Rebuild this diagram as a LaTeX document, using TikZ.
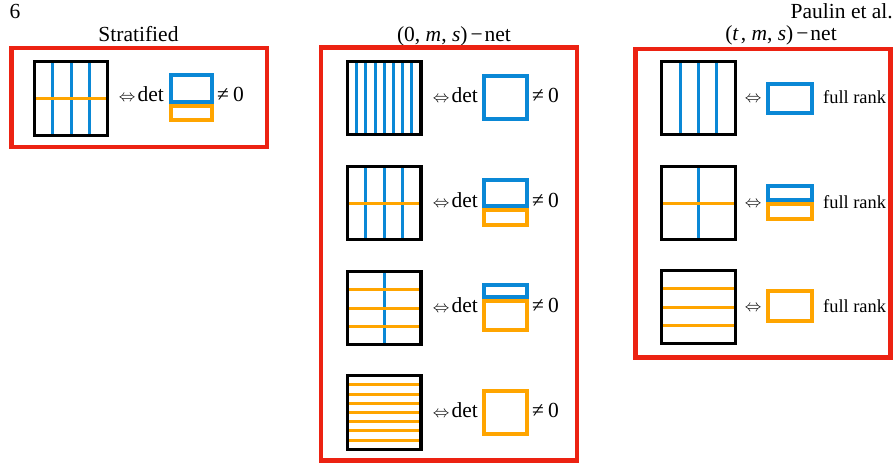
\documentclass[tikz,border=0pt]{standalone}
\usepackage{fontspec}
\setmainfont{Liberation Serif}
\usepackage{graphicx}
\definecolor{myblue}{RGB}{10,136,214}
\definecolor{myorange}{RGB}{255,165,0}
\definecolor{myred}{RGB}{236,34,18}
\newcommand\myiff{\scalebox{0.8}{$\Leftrightarrow$}}
\tikzset{
  frame/.style={draw=myred,line width=4.6pt},
  gridsq/.style={draw=black,line width=3.3pt,minimum size=73.5pt,inner sep=0pt,outer sep=0pt},
  bl/.style={draw=myblue,line width=3pt},
  ol/.style={draw=myorange,line width=3pt},
  bm/.style={draw=myblue,line width=4pt},
  om/.style={draw=myorange,line width=4pt},
  txt/.style={inner sep=0pt,font=\fontsize{21.5}{24}\selectfont},
  small/.style={inner sep=0pt,font=\fontsize{18.4}{20}\selectfont},
}
\begin{document}
\begin{tikzpicture}[x=1pt,y=-1pt]
\useasboundingbox (0,0) rectangle (896,463);

% header
\node[txt,anchor=base west] (pg) at (9.3,18.3) {6};
\node[txt,anchor=base east] (au) at (893,18.3) {Paulin et al.};

% titles
\node[txt,anchor=base] (t1) at (138.5,41.7) {Stratified};
\node[txt,anchor=base] (t2) at (454,41.7) {(0, \textit{m}, \textit{s})\kern3pt−\kern2pt net};
\node[txt,anchor=base] (t3) at (781,40.5) {(\textit{t}\kern2pt, \textit{m}, \textit{s})\kern3pt−\kern2pt net};

% frames
\draw[frame] (11.5,48) rectangle (267,147);
\draw[frame] (321,47.5) rectangle (577,460.5);
\draw[frame] (635.5,49) rectangle (890.5,357.5);

% ---------- Stratified ----------
\foreach \k in {1,2,3} \draw[bl] ({71-36.75+\k*18.375},{98.5-36.75}) -- ++(0,73.5);
\draw[ol] (71-36.75,98.5) -- ++(73.5,0);
\node[gridsq] (s1) at (71,98.5) {};
\node[txt,anchor=base east] (sd1) at (164,101.7) {\myiff\kern2pt det};
\draw[bm] (171,75) rectangle (212,102);
\draw[om] (171,106) rectangle (212,120);
\node[txt,anchor=base west] (sn1) at (217,101.7) {≠\kern4pt 0};

% ---------- (0,m,s)-net ----------
% row 1
\foreach \k in {1,...,7} \draw[bl] ({384.25-36.75+\k*9.1875},{98-36.75}) -- ++(0,73.5);
\node[gridsq] (m1) at (384.25,98) {};
\node[txt,anchor=base east] (md1) at (478,102.5) {\myiff\kern2pt det};
\draw[bm] (484,76) rectangle (527,119);
\node[txt,anchor=base west] (mn1) at (532,102.5) {≠\kern4pt 0};
% row 2
\foreach \k in {1,2,3} \draw[bl] ({384.25-36.75+\k*18.375},{203-36.75}) -- ++(0,73.5);
\draw[ol] (384.25-36.75,203) -- ++(73.5,0);
\node[gridsq] (m2) at (384.25,203) {};
\node[txt,anchor=base east] (md2) at (478,207.5) {\myiff\kern2pt det};
\draw[bm] (484,179.5) rectangle (527,205.5);
\draw[om] (484,209.7) rectangle (527,224.7);
\node[txt,anchor=base west] (mn2) at (532,207.5) {≠\kern4pt 0};
% row 3
\draw[bl] (384.25,308-36.75) -- ++(0,73.5);
\foreach \k in {1,2,3} \draw[ol] ({384.25-36.75},{308-36.75+\k*18.375}) -- ++(73.5,0);
\node[gridsq] (m3) at (384.25,308) {};
\node[txt,anchor=base east] (md3) at (478,312.5) {\myiff\kern2pt det};
\draw[bm] (484,284.7) rectangle (527,297.3);
\draw[om] (484,301.3) rectangle (527,330.3);
\node[txt,anchor=base west] (mn3) at (532,312.5) {≠\kern4pt 0};
% row 4
\foreach \k in {1,...,7} \draw[ol] ({384.25-36.75},{412.5-36.75+\k*9.1875}) -- ++(73.5,0);
\node[gridsq] (m4) at (384.25,412.5) {};
\node[txt,anchor=base east] (md4) at (478,417) {\myiff\kern2pt det};
\draw[om] (484,391) rectangle (527,434);
\node[txt,anchor=base west] (mn4) at (532,417) {≠\kern4pt 0};

% ---------- (t,m,s)-net ----------
% row 1
\foreach \k in {1,2,3} \draw[bl] ({698.4-36.75+\k*18.375},{98-36.75}) -- ++(0,73.5);
\node[gridsq] (r1) at (698.4,98) {};
\node[txt,anchor=base east] (ri1) at (761.7,102) {\myiff};
\draw[bm] (768,83.7) rectangle (812,113);
\node[small,anchor=base west] (rf1) at (823,103.3) {full rank};
% row 2
\draw[bl] (698.4,203-36.75) -- ++(0,73.5);
\draw[ol] (698.4-36.75,203) -- ++(73.5,0);
\node[gridsq] (r2) at (698.4,203) {};
\node[txt,anchor=base east] (ri2) at (761.7,207) {\myiff};
\draw[bm] (768,186) rectangle (812,199.7);
\draw[om] (768,203.7) rectangle (812,219);
\node[small,anchor=base west] (rf2) at (823,208) {full rank};
% row 3
\foreach \k in {1,2,3} \draw[ol] ({698.4-36.75},{307-36.75+\k*18.375}) -- ++(73.5,0);
\node[gridsq] (r3) at (698.4,307) {};
\node[txt,anchor=base east] (ri3) at (761.7,311) {\myiff};
\draw[om] (768,291) rectangle (812,320.7);
\node[small,anchor=base west] (rf3) at (823,312) {full rank};
\end{tikzpicture}
\end{document}
